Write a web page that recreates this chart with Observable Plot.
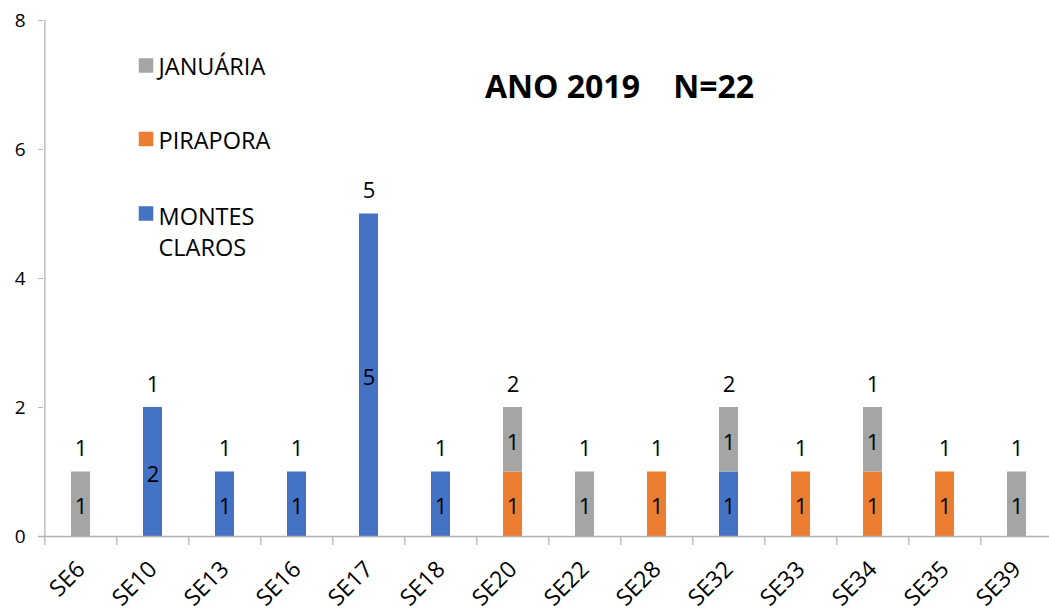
<!DOCTYPE html>
<html>
<head>
<meta charset="utf-8">
<script src="https://cdn.jsdelivr.net/npm/d3@7"></script>
<script src="https://cdn.jsdelivr.net/npm/@observablehq/plot@0.6"></script>
<style>
  html, body { margin: 0; padding: 0; background: #fff; }
  #chart svg { display: block; font-family: "Open Sans", sans-serif; }
</style>
</head>
<body>
<div id="chart"></div>
<script>
const categories = ["SE6","SE10","SE13","SE16","SE17","SE18","SE20","SE22","SE28","SE32","SE33","SE34","SE35","SE39"];
const series = ["MONTES CLAROS","PIRAPORA","JANUÁRIA"];
const montesClaros = [0,2,1,1,5,1,0,0,0,1,0,0,0,0];
const pirapora     = [0,0,0,0,0,0,1,0,1,0,1,1,1,0];
const januaria     = [1,0,0,0,0,0,1,1,0,1,0,1,0,1];
const topLabels    = [1,1,1,1,5,1,2,1,1,2,1,1,1,1];
const yTicks = [0,2,4,6,8];
const colors = ["#4472c4","#ed7d31","#a5a5a5"];
const legendLabels = ["JANUÁRIA","PIRAPORA","MONTES\nCLAROS"];
const legendColors = ["#a5a5a5","#ed7d31","#4472c4"];
const title = "ANO 2019\u00a0\u00a0\u00a0\u00a0N=22";

const seriesValues = [montesClaros, pirapora, januaria];
const rows = [];
const totals = categories.map(() => 0);
categories.forEach((c, i) => {
  seriesValues.forEach((vals, s) => {
    const v = vals[i];
    if (v > 0) {
      rows.push({cat: c, series: series[s], value: v, y0: totals[i], mid: totals[i] + v / 2});
      totals[i] += v;
    }
  });
});

const axisGray = "#b4b4b4";
const legendDy = [45, 118.5, 193];
const legendTextDy = [45, 119, 210];

const legendMarks = [];
legendLabels.forEach((lab, k) => {
  legendMarks.push(Plot.dot([lab], {frameAnchor: "top-left", dx: 102.5, dy: legendDy[k], symbol: "square", r: 8.2, fill: legendColors[k], stroke: null}));
  legendMarks.push(Plot.text([lab], {frameAnchor: "top-left", dx: 115, dy: legendTextDy[k], text: d => d, textAnchor: "start", lineAnchor: "middle", lineHeight: 1.3, fontSize: 23.5, fill: "#000"}));
});

const chart = Plot.plot({
  width: 1049,
  height: 612,
  marginTop: 20,
  marginBottom: 76,
  marginLeft: 43,
  marginRight: 0,
  style: {fontFamily: "Open Sans, sans-serif", background: "#fff"},
  x: {domain: categories, range: [43, 1054], paddingInner: 0.74, paddingOuter: 0.37},
  y: {domain: [0, 8], range: [536, 20]},
  color: {domain: series, range: colors},
  marks: [
    Plot.barY(rows, {x: "cat", y1: "y0", y2: d => d.y0 + d.value, fill: "series"}),
    Plot.text(rows, {x: "cat", y: "mid", text: "value", fontSize: 22, fill: "#000", dy: 3}),
    Plot.text(categories, {x: d => d, y: (d, i) => totals[i], text: (d, i) => String(topLabels[i]), fontSize: 22, fill: "#000", dy: -23}),
    Plot.ruleY([0], {stroke: axisGray, strokeWidth: 1.3, insetLeft: -5}),
    Plot.ruleX([categories[0]], {dx: -36.1, stroke: axisGray, strokeWidth: 1.3, insetBottom: -9}),
    Plot.ruleX(categories.slice(1), {dx: -36.1, stroke: axisGray, strokeWidth: 1.3, insetTop: 516, insetBottom: -9}),
    Plot.axisY({ticks: yTicks, tickSize: 5, tickPadding: 13, stroke: axisGray, fontSize: 19, label: null, color: "#000"}),
    Plot.axisX({tickSize: 0, tickRotate: -45, tickPadding: 29, fontSize: 23, label: null, color: "#000"}),
    ...legendMarks,
    Plot.text([title], {frameAnchor: "top-left", dx: 576, dy: 67, text: d => d, fontSize: 32, fontWeight: "bold", textAnchor: "middle", lineAnchor: "middle", fill: "#000"})
  ]
});
document.getElementById("chart").appendChild(chart);
</script>
</body>
</html>
